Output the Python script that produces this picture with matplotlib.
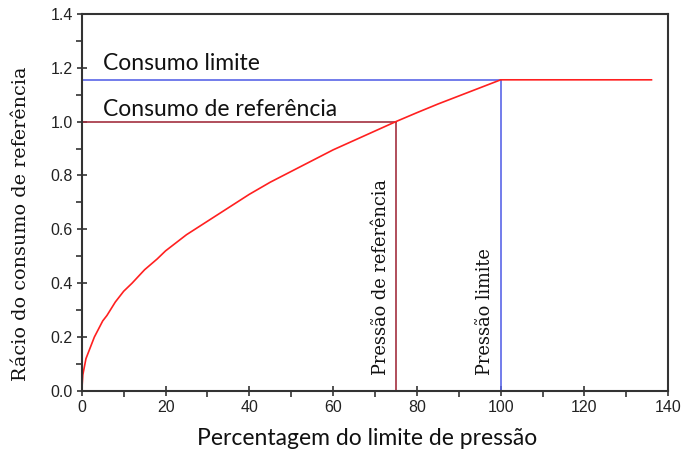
import matplotlib
matplotlib.use("Agg")
import matplotlib.pyplot as plt
from matplotlib.ticker import MultipleLocator

# consumption ratio vs percentage of the pressure limit
pressure_pct = [0, 0.25, 0.5, 1, 1.5, 2, 3, 4, 5, 6, 8, 10, 12, 15, 18, 20, 25, 30, 35,
                40, 45, 50, 55, 60, 65, 70, 75, 80, 85, 90, 95, 100, 136]
consumption_ratio = [0, 0.06, 0.08, 0.12, 0.14, 0.16, 0.20, 0.23, 0.26, 0.28, 0.33, 0.37,
                     0.40, 0.45, 0.49, 0.52, 0.58, 0.63, 0.68, 0.73, 0.775, 0.815, 0.855,
                     0.895, 0.93, 0.965, 1.0, 1.033, 1.065, 1.095, 1.125, 1.155, 1.155]

ref_pressure = 75
ref_consumption = 1.0
limit_pressure = 100
limit_consumption = 1.155

red = "#ff2020"
maroon = "#a33040"
blue = "#5a66e8"

fig = plt.figure(figsize=(6.99, 4.61), dpi=100)
ax = fig.add_axes([0.117, 0.152, 0.839, 0.818])

# reference / limit guide lines
ax.plot([0, ref_pressure], [ref_consumption, ref_consumption], color=maroon, lw=1.2)
ax.plot([ref_pressure, ref_pressure], [0, ref_consumption], color=maroon, lw=1.2)
ax.plot([0, limit_pressure], [limit_consumption, limit_consumption], color=blue, lw=1.2)
ax.plot([limit_pressure, limit_pressure], [0, limit_consumption], color=blue, lw=1.2)

ax.plot(pressure_pct, consumption_ratio, color=red, lw=1.2)

ax.set_xlim(0, 140)
ax.set_ylim(0, 1.4)
ax.xaxis.set_major_locator(MultipleLocator(20))
ax.xaxis.set_minor_locator(MultipleLocator(10))
ax.yaxis.set_major_locator(MultipleLocator(0.2))
ax.yaxis.set_minor_locator(MultipleLocator(0.1))
ax.yaxis.set_major_formatter(plt.FormatStrFormatter("%.1f"))
ax.tick_params(which="major", direction="inout", length=7, width=1.2, color="#333333",
               labelsize=11.5, labelcolor="#222222", pad=3)
ax.tick_params(which="minor", direction="out", length=4, width=1.2, color="#333333")
for lbl in ax.get_xticklabels() + ax.get_yticklabels():
    lbl.set_family("Liberation Sans")
for sp in ax.spines.values():
    sp.set_color("#333333")
    sp.set_linewidth(1.5)

sans = ["Lato", "DejaVu Sans"]
serif = ["DejaVu Serif"]

ax.text(5, 1.19, "Consumo limite", family=sans, fontsize=16.5, color="#111111",
        va="baseline")
ax.text(5, 1.02, "Consumo de referência", family=sans, fontsize=16.5, color="#111111",
        va="baseline")

ax.text(ref_pressure - 1.5, 0.06, "Pressão de referência", family=serif, fontsize=12.8,
        rotation=90, ha="right", va="bottom", color="#111111")
ax.text(limit_pressure - 1.5, 0.06, "Pressão limite", family=serif, fontsize=12.8,
        rotation=90, ha="right", va="bottom", color="#111111")

ax.set_xlabel("Percentagem do limite de pressão", family=sans, fontsize=16.5,
              color="#111111")
ax.xaxis.set_label_coords(0.486, -0.098)
ax.set_ylabel("Rácio do consumo de referência", family=serif, fontsize=13.8,
              color="#111111")
ax.yaxis.set_label_coords(-0.089, 0.443)

fig.savefig("out.png", dpi=100)
